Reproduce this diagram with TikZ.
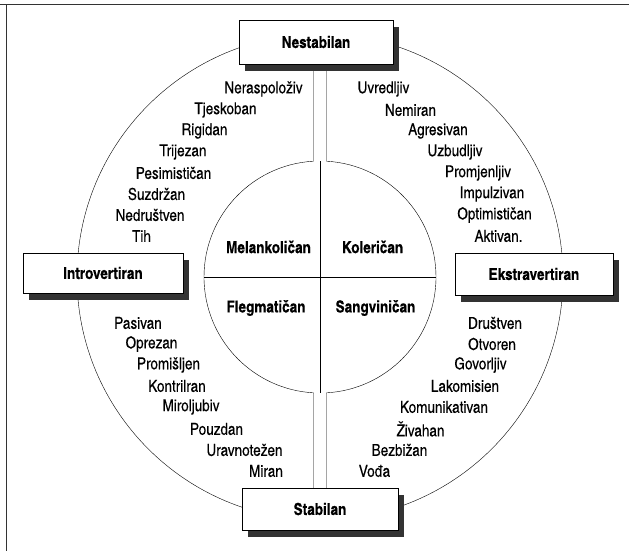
\documentclass[tikz,border=0pt]{standalone}
\usepackage{fontspec}
\setmainfont{texgyreheroscn}[Extension=.otf,UprightFont=*-regular,BoldFont=*-bold,
  UprightFeatures={FakeBold=0.25},BoldFeatures={FakeBold=0.3}]
\usetikzlibrary{shadows,backgrounds}
\begin{document}
\begin{tikzpicture}[x=1pt,y=-1pt,line width=0.75pt,
  word/.style={inner sep=0pt,font=\fontsize{16.5}{18}\selectfont},
  temper/.style={inner sep=0pt,font=\bfseries\fontsize{16.5}{18}\selectfont},
  pole/.style={draw,fill=white,line width=0.7pt,inner sep=0pt,
    font=\bfseries\fontsize{16.5}{18}\selectfont,
    drop shadow={shadow xshift=6pt,shadow yshift=-7pt,fill=black!80,opacity=1}},
]
\useasboundingbox (0,0) rectangle (629,551);

% page rules
\draw[line width=1pt,black!80] (0,4.5) -- (629,4.5);
\draw[line width=1pt,black!80] (6.5,4.5) -- (6.5,551);

% the four poles
\node[pole,minimum width=154pt,minimum height=44pt] (nest) at (316,42) {Nestabilan};
\node[pole,minimum width=156pt,minimum height=42pt] (stab) at (320,509) {Stabilan};
\node[pole,minimum width=160pt,minimum height=40pt] (intro) at (103,273) {Introvertiran};
\node[pole,minimum width=158pt,minimum height=42pt] (ekstra) at (534,274) {Ekstravertiran};

\begin{scope}[on background layer]
  % outer ring
  \coordinate (mid) at (320,277);
  \draw (mid) circle[radius=243pt];
  % inner circle, open where the two channels join it
  \draw (326.5,64) -- (326.5,161.2) arc[start angle=86.79,end angle=-86.79,radius=116pt] -- (326.5,488);
  \draw (313.5,64) -- (313.5,161.2) arc[start angle=93.21,end angle=266.79,radius=116pt] -- (313.5,488);
  % cross dividing the four temperaments
  \draw[line width=0.6pt] (204,277.5) -- (436,277.5);
  \draw[line width=0.6pt] (320.5,161.2) -- (320.5,392.8);
\end{scope}

% temperaments
\node[temper] (mel) at (268.5,247) {Melankoličan};
\node[temper] (kol) at (372.5,247) {Koleričan};
\node[temper] (fleg) at (266,308) {Flegmatičan};
\node[temper] (sang) at (375.5,308) {Sangviničan};

% traits, upper left
\node[word] (w1) at (263.5,89) {Neraspoloživ};
\node[word] (w2) at (225.5,110) {Tjeskoban};
\node[word] (w3) at (204.5,131) {Rigidan};
\node[word] (w4) at (183,152) {Trijezan};
\node[word] (w5) at (173.5,173) {Pesimističan};
\node[word] (w6) at (156.5,194) {Suzdržan};
\node[word] (w7) at (150,215) {Nedruštven};
\node[word] (w8) at (141.5,236) {Tih};

% traits, upper right
\node[word] (e1) at (383.5,89) {Uvredljiv};
\node[word] (e2) at (410.5,110) {Nemiran};
\node[word] (e3) at (438,131) {Agresivan};
\node[word] (e4) at (455,152) {Uzbudljiv};
\node[word] (e5) at (478,173) {Promjenljiv};
\node[word] (e6) at (492,194) {Impulzivan};
\node[word] (e7) at (494.5,215) {Optimističan};
\node[word] (e8) at (498.5,236) {Aktivan.};

% traits, lower left
\node[word] (s1) at (138,323) {Pasivan};
\node[word] (s2) at (151.5,344) {Oprezan};
\node[word] (s3) at (168.5,365) {Promišljen};
\node[word] (s4) at (177,386) {Kontrilran};
\node[word] (s5) at (191,407) {Miroljubiv};
\node[word] (s6) at (216.5,429) {Pouzdan};
\node[word] (s7) at (244.5,450) {Uravnotežen};
\node[word] (s8) at (266,471) {Miran};

% traits, lower right
\node[word] (r1) at (495,323) {Društven};
\node[word] (r2) at (492,344) {Otvoren};
\node[word] (r3) at (480.5,365) {Govorljiv};
\node[word] (r4) at (465,386) {Lakomisien};
\node[word] (r5) at (444,407) {Komunikativan};
\node[word] (r6) at (420.5,429) {Živahan};
\node[word] (r7) at (399.5,450) {Bezbižan};
\node[word] (r8) at (374.5,471) {Vođa};
\end{tikzpicture}
\end{document}
